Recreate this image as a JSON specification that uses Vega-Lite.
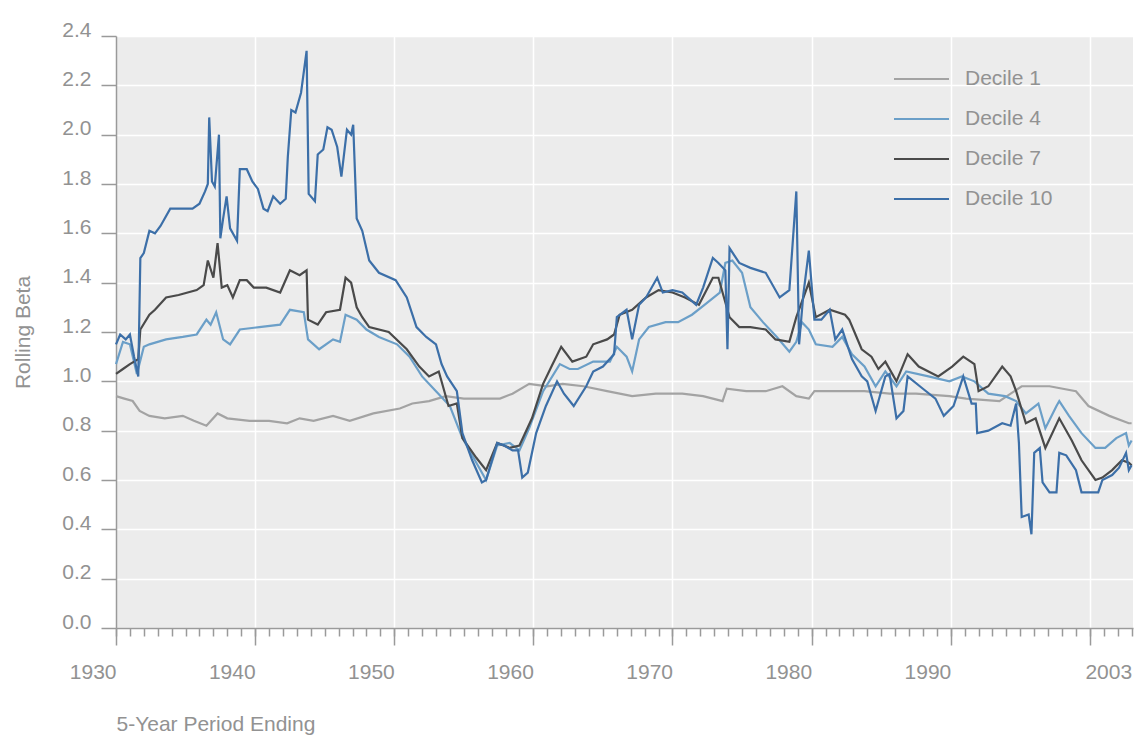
{
  "$schema": "https://vega.github.io/schema/vega-lite/v6.json",
  "autosize": {"type": "none"},
  "padding": {"left": 116, "top": 36, "right": 6, "bottom": 107},
  "width": 1017,
  "height": 592,
  "background": "#ffffff",
  "config": {
    "font": "Liberation Sans",
    "view": {"fill": "#ececec", "stroke": null},
    "axis": {"labelFont": "Liberation Sans", "titleFont": "Liberation Sans", "labelColor": "#929292", "titleColor": "#929292", "labelFontSize": 21, "titleFontSize": 21, "titleFontWeight": "normal", "domainColor": "#9a9a9a", "tickColor": "#9a9a9a", "domainWidth": 1.5, "tickWidth": 1.5}
  },
  "data": {"values": [
    {"series":"Decile 1","year":1930.0,"beta":0.94},{"series":"Decile 1","year":1930.6,"beta":0.93},{"series":"Decile 1","year":1931.2,"beta":0.92},{"series":"Decile 1","year":1931.7,"beta":0.88},{"series":"Decile 1","year":1932.4,"beta":0.86},{"series":"Decile 1","year":1933.5,"beta":0.85},{"series":"Decile 1","year":1934.8,"beta":0.86},{"series":"Decile 1","year":1935.6,"beta":0.84},{"series":"Decile 1","year":1936.5,"beta":0.82},{"series":"Decile 1","year":1937.3,"beta":0.87},{"series":"Decile 1","year":1938.0,"beta":0.85},{"series":"Decile 1","year":1939.6,"beta":0.84},{"series":"Decile 1","year":1941.0,"beta":0.84},{"series":"Decile 1","year":1942.3,"beta":0.83},{"series":"Decile 1","year":1943.2,"beta":0.85},{"series":"Decile 1","year":1944.2,"beta":0.84},{"series":"Decile 1","year":1945.6,"beta":0.86},{"series":"Decile 1","year":1946.8,"beta":0.84},{"series":"Decile 1","year":1948.5,"beta":0.87},{"series":"Decile 1","year":1950.4,"beta":0.89},{"series":"Decile 1","year":1951.3,"beta":0.91},{"series":"Decile 1","year":1952.5,"beta":0.92},{"series":"Decile 1","year":1953.7,"beta":0.94},{"series":"Decile 1","year":1955.0,"beta":0.93},{"series":"Decile 1","year":1956.1,"beta":0.93},{"series":"Decile 1","year":1957.6,"beta":0.93},{"series":"Decile 1","year":1958.5,"beta":0.95},{"series":"Decile 1","year":1959.7,"beta":0.99},{"series":"Decile 1","year":1961.0,"beta":0.98},{"series":"Decile 1","year":1962.1,"beta":0.99},{"series":"Decile 1","year":1963.6,"beta":0.98},{"series":"Decile 1","year":1965.3,"beta":0.96},{"series":"Decile 1","year":1967.1,"beta":0.94},{"series":"Decile 1","year":1968.8,"beta":0.95},{"series":"Decile 1","year":1970.7,"beta":0.95},{"series":"Decile 1","year":1972.2,"beta":0.94},{"series":"Decile 1","year":1973.6,"beta":0.92},{"series":"Decile 1","year":1973.9,"beta":0.97},{"series":"Decile 1","year":1975.3,"beta":0.96},{"series":"Decile 1","year":1976.7,"beta":0.96},{"series":"Decile 1","year":1977.9,"beta":0.98},{"series":"Decile 1","year":1978.9,"beta":0.94},{"series":"Decile 1","year":1979.8,"beta":0.93},{"series":"Decile 1","year":1980.2,"beta":0.96},{"series":"Decile 1","year":1982.0,"beta":0.96},{"series":"Decile 1","year":1983.8,"beta":0.96},{"series":"Decile 1","year":1985.6,"beta":0.95},{"series":"Decile 1","year":1987.5,"beta":0.95},{"series":"Decile 1","year":1989.9,"beta":0.94},{"series":"Decile 1","year":1991.1,"beta":0.93},{"series":"Decile 1","year":1993.5,"beta":0.92},{"series":"Decile 1","year":1995.1,"beta":0.98},{"series":"Decile 1","year":1997.1,"beta":0.98},{"series":"Decile 1","year":1999.0,"beta":0.96},{"series":"Decile 1","year":1999.9,"beta":0.90},{"series":"Decile 1","year":2001.4,"beta":0.86},{"series":"Decile 1","year":2002.8,"beta":0.83},{"series":"Decile 1","year":2003.0,"beta":0.83},

    {"series":"Decile 4","year":1930.0,"beta":1.07},{"series":"Decile 4","year":1930.5,"beta":1.16},{"series":"Decile 4","year":1931.0,"beta":1.15},{"series":"Decile 4","year":1931.5,"beta":1.03},{"series":"Decile 4","year":1932.0,"beta":1.14},{"series":"Decile 4","year":1932.4,"beta":1.15},{"series":"Decile 4","year":1933.6,"beta":1.17},{"series":"Decile 4","year":1934.8,"beta":1.18},{"series":"Decile 4","year":1935.8,"beta":1.19},{"series":"Decile 4","year":1936.5,"beta":1.25},{"series":"Decile 4","year":1936.8,"beta":1.23},{"series":"Decile 4","year":1937.2,"beta":1.28},{"series":"Decile 4","year":1937.7,"beta":1.17},{"series":"Decile 4","year":1938.2,"beta":1.15},{"series":"Decile 4","year":1938.9,"beta":1.21},{"series":"Decile 4","year":1940.3,"beta":1.22},{"series":"Decile 4","year":1941.8,"beta":1.23},{"series":"Decile 4","year":1942.5,"beta":1.29},{"series":"Decile 4","year":1943.5,"beta":1.28},{"series":"Decile 4","year":1943.8,"beta":1.17},{"series":"Decile 4","year":1944.6,"beta":1.13},{"series":"Decile 4","year":1945.6,"beta":1.17},{"series":"Decile 4","year":1946.1,"beta":1.16},{"series":"Decile 4","year":1946.5,"beta":1.27},{"series":"Decile 4","year":1947.3,"beta":1.25},{"series":"Decile 4","year":1948.0,"beta":1.21},{"series":"Decile 4","year":1948.9,"beta":1.18},{"series":"Decile 4","year":1950.2,"beta":1.15},{"series":"Decile 4","year":1951.1,"beta":1.10},{"series":"Decile 4","year":1952.0,"beta":1.02},{"series":"Decile 4","year":1953.0,"beta":0.96},{"series":"Decile 4","year":1954.0,"beta":0.90},{"series":"Decile 4","year":1954.9,"beta":0.77},{"series":"Decile 4","year":1955.9,"beta":0.67},{"series":"Decile 4","year":1956.6,"beta":0.60},{"series":"Decile 4","year":1957.4,"beta":0.74},{"series":"Decile 4","year":1958.3,"beta":0.75},{"series":"Decile 4","year":1959.0,"beta":0.72},{"series":"Decile 4","year":1959.7,"beta":0.81},{"series":"Decile 4","year":1960.7,"beta":0.96},{"series":"Decile 4","year":1961.9,"beta":1.07},{"series":"Decile 4","year":1962.6,"beta":1.05},{"series":"Decile 4","year":1963.2,"beta":1.05},{"series":"Decile 4","year":1964.3,"beta":1.08},{"series":"Decile 4","year":1965.5,"beta":1.08},{"series":"Decile 4","year":1966.0,"beta":1.14},{"series":"Decile 4","year":1966.7,"beta":1.10},{"series":"Decile 4","year":1967.1,"beta":1.04},{"series":"Decile 4","year":1967.6,"beta":1.17},{"series":"Decile 4","year":1968.3,"beta":1.22},{"series":"Decile 4","year":1969.5,"beta":1.24},{"series":"Decile 4","year":1970.4,"beta":1.24},{"series":"Decile 4","year":1971.4,"beta":1.27},{"series":"Decile 4","year":1972.3,"beta":1.31},{"series":"Decile 4","year":1973.4,"beta":1.36},{"series":"Decile 4","year":1973.8,"beta":1.48},{"series":"Decile 4","year":1974.3,"beta":1.49},{"series":"Decile 4","year":1975.0,"beta":1.44},{"series":"Decile 4","year":1975.6,"beta":1.30},{"series":"Decile 4","year":1976.5,"beta":1.24},{"series":"Decile 4","year":1977.5,"beta":1.18},{"series":"Decile 4","year":1978.4,"beta":1.12},{"series":"Decile 4","year":1978.9,"beta":1.16},{"series":"Decile 4","year":1979.3,"beta":1.24},{"series":"Decile 4","year":1979.8,"beta":1.21},{"series":"Decile 4","year":1980.3,"beta":1.15},{"series":"Decile 4","year":1981.5,"beta":1.14},{"series":"Decile 4","year":1982.2,"beta":1.18},{"series":"Decile 4","year":1982.9,"beta":1.11},{"series":"Decile 4","year":1983.8,"beta":1.06},{"series":"Decile 4","year":1984.6,"beta":0.98},{"series":"Decile 4","year":1985.3,"beta":1.04},{"series":"Decile 4","year":1986.1,"beta":0.98},{"series":"Decile 4","year":1986.8,"beta":1.04},{"series":"Decile 4","year":1988.4,"beta":1.02},{"series":"Decile 4","year":1989.9,"beta":1.00},{"series":"Decile 4","year":1990.8,"beta":1.02},{"series":"Decile 4","year":1991.7,"beta":1.00},{"series":"Decile 4","year":1992.7,"beta":0.95},{"series":"Decile 4","year":1993.9,"beta":0.94},{"series":"Decile 4","year":1994.7,"beta":0.92},{"series":"Decile 4","year":1995.4,"beta":0.87},{"series":"Decile 4","year":1996.3,"beta":0.91},{"series":"Decile 4","year":1996.8,"beta":0.81},{"series":"Decile 4","year":1997.6,"beta":0.90},{"series":"Decile 4","year":1997.8,"beta":0.92},{"series":"Decile 4","year":1998.5,"beta":0.86},{"series":"Decile 4","year":1999.4,"beta":0.79},{"series":"Decile 4","year":2000.4,"beta":0.73},{"series":"Decile 4","year":2001.1,"beta":0.73},{"series":"Decile 4","year":2001.9,"beta":0.77},{"series":"Decile 4","year":2002.6,"beta":0.79},{"series":"Decile 4","year":2002.8,"beta":0.74},{"series":"Decile 4","year":2003.0,"beta":0.76},

    {"series":"Decile 7","year":1930.0,"beta":1.03},{"series":"Decile 7","year":1930.5,"beta":1.05},{"series":"Decile 7","year":1931.0,"beta":1.07},{"series":"Decile 7","year":1931.6,"beta":1.09},{"series":"Decile 7","year":1931.75,"beta":1.21},{"series":"Decile 7","year":1932.4,"beta":1.27},{"series":"Decile 7","year":1932.8,"beta":1.29},{"series":"Decile 7","year":1933.6,"beta":1.34},{"series":"Decile 7","year":1934.5,"beta":1.35},{"series":"Decile 7","year":1935.8,"beta":1.37},{"series":"Decile 7","year":1936.3,"beta":1.39},{"series":"Decile 7","year":1936.6,"beta":1.49},{"series":"Decile 7","year":1937.0,"beta":1.42},{"series":"Decile 7","year":1937.3,"beta":1.56},{"series":"Decile 7","year":1937.6,"beta":1.38},{"series":"Decile 7","year":1938.0,"beta":1.39},{"series":"Decile 7","year":1938.4,"beta":1.34},{"series":"Decile 7","year":1938.9,"beta":1.41},{"series":"Decile 7","year":1939.4,"beta":1.41},{"series":"Decile 7","year":1939.9,"beta":1.38},{"series":"Decile 7","year":1940.8,"beta":1.38},{"series":"Decile 7","year":1941.8,"beta":1.36},{"series":"Decile 7","year":1942.5,"beta":1.45},{"series":"Decile 7","year":1943.2,"beta":1.43},{"series":"Decile 7","year":1943.7,"beta":1.45},{"series":"Decile 7","year":1943.8,"beta":1.25},{"series":"Decile 7","year":1944.5,"beta":1.23},{"series":"Decile 7","year":1945.1,"beta":1.28},{"series":"Decile 7","year":1946.1,"beta":1.29},{"series":"Decile 7","year":1946.5,"beta":1.42},{"series":"Decile 7","year":1946.9,"beta":1.40},{"series":"Decile 7","year":1947.3,"beta":1.30},{"series":"Decile 7","year":1947.7,"beta":1.26},{"series":"Decile 7","year":1948.2,"beta":1.22},{"series":"Decile 7","year":1949.6,"beta":1.20},{"series":"Decile 7","year":1950.9,"beta":1.13},{"series":"Decile 7","year":1951.8,"beta":1.06},{"series":"Decile 7","year":1952.5,"beta":1.02},{"series":"Decile 7","year":1953.2,"beta":1.04},{"series":"Decile 7","year":1953.9,"beta":0.90},{"series":"Decile 7","year":1954.5,"beta":0.91},{"series":"Decile 7","year":1954.9,"beta":0.77},{"series":"Decile 7","year":1955.9,"beta":0.69},{"series":"Decile 7","year":1956.6,"beta":0.64},{"series":"Decile 7","year":1957.4,"beta":0.75},{"series":"Decile 7","year":1958.3,"beta":0.73},{"series":"Decile 7","year":1959.0,"beta":0.74},{"series":"Decile 7","year":1959.9,"beta":0.85},{"series":"Decile 7","year":1960.7,"beta":0.99},{"series":"Decile 7","year":1961.3,"beta":1.06},{"series":"Decile 7","year":1962.0,"beta":1.14},{"series":"Decile 7","year":1962.8,"beta":1.08},{"series":"Decile 7","year":1963.8,"beta":1.10},{"series":"Decile 7","year":1964.3,"beta":1.15},{"series":"Decile 7","year":1965.3,"beta":1.17},{"series":"Decile 7","year":1965.8,"beta":1.19},{"series":"Decile 7","year":1966.2,"beta":1.27},{"series":"Decile 7","year":1967.1,"beta":1.29},{"series":"Decile 7","year":1968.1,"beta":1.34},{"series":"Decile 7","year":1969.0,"beta":1.37},{"series":"Decile 7","year":1970.0,"beta":1.36},{"series":"Decile 7","year":1970.9,"beta":1.34},{"series":"Decile 7","year":1971.9,"beta":1.31},{"series":"Decile 7","year":1972.9,"beta":1.42},{"series":"Decile 7","year":1973.3,"beta":1.42},{"series":"Decile 7","year":1974.1,"beta":1.26},{"series":"Decile 7","year":1974.8,"beta":1.22},{"series":"Decile 7","year":1975.6,"beta":1.22},{"series":"Decile 7","year":1976.7,"beta":1.21},{"series":"Decile 7","year":1977.4,"beta":1.17},{"series":"Decile 7","year":1978.4,"beta":1.16},{"series":"Decile 7","year":1978.9,"beta":1.26},{"series":"Decile 7","year":1979.8,"beta":1.40},{"series":"Decile 7","year":1980.3,"beta":1.26},{"series":"Decile 7","year":1981.3,"beta":1.29},{"series":"Decile 7","year":1982.4,"beta":1.27},{"series":"Decile 7","year":1982.7,"beta":1.25},{"series":"Decile 7","year":1983.6,"beta":1.13},{"series":"Decile 7","year":1984.3,"beta":1.10},{"series":"Decile 7","year":1984.8,"beta":1.05},{"series":"Decile 7","year":1985.3,"beta":1.08},{"series":"Decile 7","year":1986.1,"beta":1.00},{"series":"Decile 7","year":1986.9,"beta":1.11},{"series":"Decile 7","year":1987.7,"beta":1.06},{"series":"Decile 7","year":1989.1,"beta":1.02},{"series":"Decile 7","year":1990.1,"beta":1.06},{"series":"Decile 7","year":1990.9,"beta":1.10},{"series":"Decile 7","year":1991.7,"beta":1.07},{"series":"Decile 7","year":1992.0,"beta":0.96},{"series":"Decile 7","year":1992.7,"beta":0.98},{"series":"Decile 7","year":1993.7,"beta":1.06},{"series":"Decile 7","year":1994.3,"beta":1.02},{"series":"Decile 7","year":1994.7,"beta":0.96},{"series":"Decile 7","year":1995.4,"beta":0.83},{"series":"Decile 7","year":1996.1,"beta":0.85},{"series":"Decile 7","year":1996.8,"beta":0.73},{"series":"Decile 7","year":1997.8,"beta":0.85},{"series":"Decile 7","year":1998.7,"beta":0.76},{"series":"Decile 7","year":1999.4,"beta":0.68},{"series":"Decile 7","year":2000.4,"beta":0.60},{"series":"Decile 7","year":2000.9,"beta":0.61},{"series":"Decile 7","year":2001.6,"beta":0.64},{"series":"Decile 7","year":2002.3,"beta":0.68},{"series":"Decile 7","year":2002.8,"beta":0.67},{"series":"Decile 7","year":2003.0,"beta":0.66},

    {"series":"Decile 10","year":1930.0,"beta":1.15},{"series":"Decile 10","year":1930.3,"beta":1.19},{"series":"Decile 10","year":1930.7,"beta":1.17},{"series":"Decile 10","year":1931.0,"beta":1.19},{"series":"Decile 10","year":1931.3,"beta":1.10},{"series":"Decile 10","year":1931.6,"beta":1.02},{"series":"Decile 10","year":1931.75,"beta":1.50},{"series":"Decile 10","year":1932.0,"beta":1.52},{"series":"Decile 10","year":1932.4,"beta":1.61},{"series":"Decile 10","year":1932.8,"beta":1.60},{"series":"Decile 10","year":1933.2,"beta":1.63},{"series":"Decile 10","year":1933.9,"beta":1.70},{"series":"Decile 10","year":1934.5,"beta":1.70},{"series":"Decile 10","year":1935.5,"beta":1.70},{"series":"Decile 10","year":1936.0,"beta":1.72},{"series":"Decile 10","year":1936.4,"beta":1.77},{"series":"Decile 10","year":1936.6,"beta":1.80},{"series":"Decile 10","year":1936.7,"beta":2.07},{"series":"Decile 10","year":1936.9,"beta":1.81},{"series":"Decile 10","year":1937.1,"beta":1.79},{"series":"Decile 10","year":1937.4,"beta":2.00},{"series":"Decile 10","year":1937.5,"beta":1.58},{"series":"Decile 10","year":1937.7,"beta":1.66},{"series":"Decile 10","year":1937.95,"beta":1.75},{"series":"Decile 10","year":1938.2,"beta":1.62},{"series":"Decile 10","year":1938.7,"beta":1.57},{"series":"Decile 10","year":1938.9,"beta":1.86},{"series":"Decile 10","year":1939.4,"beta":1.86},{"series":"Decile 10","year":1939.8,"beta":1.81},{"series":"Decile 10","year":1940.2,"beta":1.78},{"series":"Decile 10","year":1940.6,"beta":1.70},{"series":"Decile 10","year":1940.9,"beta":1.69},{"series":"Decile 10","year":1941.3,"beta":1.75},{"series":"Decile 10","year":1941.8,"beta":1.72},{"series":"Decile 10","year":1942.2,"beta":1.74},{"series":"Decile 10","year":1942.35,"beta":1.91},{"series":"Decile 10","year":1942.6,"beta":2.10},{"series":"Decile 10","year":1942.9,"beta":2.09},{"series":"Decile 10","year":1943.3,"beta":2.17},{"series":"Decile 10","year":1943.7,"beta":2.34},{"series":"Decile 10","year":1943.85,"beta":1.76},{"series":"Decile 10","year":1944.3,"beta":1.73},{"series":"Decile 10","year":1944.5,"beta":1.92},{"series":"Decile 10","year":1944.9,"beta":1.94},{"series":"Decile 10","year":1945.2,"beta":2.03},{"series":"Decile 10","year":1945.5,"beta":2.02},{"series":"Decile 10","year":1945.9,"beta":1.95},{"series":"Decile 10","year":1946.2,"beta":1.83},{"series":"Decile 10","year":1946.6,"beta":2.02},{"series":"Decile 10","year":1946.9,"beta":2.00},{"series":"Decile 10","year":1947.05,"beta":2.04},{"series":"Decile 10","year":1947.3,"beta":1.66},{"series":"Decile 10","year":1947.7,"beta":1.61},{"series":"Decile 10","year":1948.2,"beta":1.49},{"series":"Decile 10","year":1948.9,"beta":1.44},{"series":"Decile 10","year":1950.1,"beta":1.41},{"series":"Decile 10","year":1950.9,"beta":1.34},{"series":"Decile 10","year":1951.6,"beta":1.22},{"series":"Decile 10","year":1952.3,"beta":1.18},{"series":"Decile 10","year":1953.0,"beta":1.15},{"series":"Decile 10","year":1953.4,"beta":1.07},{"series":"Decile 10","year":1953.8,"beta":1.02},{"series":"Decile 10","year":1954.5,"beta":0.96},{"series":"Decile 10","year":1954.9,"beta":0.79},{"series":"Decile 10","year":1955.6,"beta":0.68},{"series":"Decile 10","year":1956.3,"beta":0.59},{"series":"Decile 10","year":1956.6,"beta":0.60},{"series":"Decile 10","year":1957.4,"beta":0.75},{"series":"Decile 10","year":1957.9,"beta":0.74},{"series":"Decile 10","year":1958.5,"beta":0.72},{"series":"Decile 10","year":1958.9,"beta":0.72},{"series":"Decile 10","year":1959.2,"beta":0.61},{"series":"Decile 10","year":1959.6,"beta":0.63},{"series":"Decile 10","year":1960.2,"beta":0.79},{"series":"Decile 10","year":1960.9,"beta":0.90},{"series":"Decile 10","year":1961.7,"beta":1.00},{"series":"Decile 10","year":1962.2,"beta":0.95},{"series":"Decile 10","year":1962.9,"beta":0.90},{"series":"Decile 10","year":1963.8,"beta":0.98},{"series":"Decile 10","year":1964.3,"beta":1.04},{"series":"Decile 10","year":1965.0,"beta":1.06},{"series":"Decile 10","year":1965.8,"beta":1.11},{"series":"Decile 10","year":1966.0,"beta":1.26},{"series":"Decile 10","year":1966.7,"beta":1.29},{"series":"Decile 10","year":1967.1,"beta":1.17},{"series":"Decile 10","year":1967.6,"beta":1.31},{"series":"Decile 10","year":1968.1,"beta":1.34},{"series":"Decile 10","year":1968.9,"beta":1.42},{"series":"Decile 10","year":1969.3,"beta":1.36},{"series":"Decile 10","year":1970.0,"beta":1.37},{"series":"Decile 10","year":1970.7,"beta":1.36},{"series":"Decile 10","year":1971.7,"beta":1.31},{"series":"Decile 10","year":1972.2,"beta":1.38},{"series":"Decile 10","year":1972.9,"beta":1.50},{"series":"Decile 10","year":1973.3,"beta":1.48},{"series":"Decile 10","year":1973.8,"beta":1.45},{"series":"Decile 10","year":1973.95,"beta":1.13},{"series":"Decile 10","year":1974.1,"beta":1.54},{"series":"Decile 10","year":1974.8,"beta":1.48},{"series":"Decile 10","year":1975.6,"beta":1.46},{"series":"Decile 10","year":1976.7,"beta":1.44},{"series":"Decile 10","year":1977.7,"beta":1.34},{"series":"Decile 10","year":1978.4,"beta":1.37},{"series":"Decile 10","year":1978.9,"beta":1.77},{"series":"Decile 10","year":1979.1,"beta":1.15},{"series":"Decile 10","year":1979.4,"beta":1.35},{"series":"Decile 10","year":1979.8,"beta":1.53},{"series":"Decile 10","year":1980.2,"beta":1.25},{"series":"Decile 10","year":1980.7,"beta":1.25},{"series":"Decile 10","year":1981.3,"beta":1.29},{"series":"Decile 10","year":1981.7,"beta":1.17},{"series":"Decile 10","year":1982.2,"beta":1.21},{"series":"Decile 10","year":1982.9,"beta":1.09},{"series":"Decile 10","year":1983.6,"beta":1.02},{"series":"Decile 10","year":1984.0,"beta":1.00},{"series":"Decile 10","year":1984.6,"beta":0.88},{"series":"Decile 10","year":1985.3,"beta":1.02},{"series":"Decile 10","year":1985.6,"beta":1.03},{"series":"Decile 10","year":1986.1,"beta":0.85},{"series":"Decile 10","year":1986.6,"beta":0.88},{"series":"Decile 10","year":1986.9,"beta":1.02},{"series":"Decile 10","year":1988.0,"beta":0.97},{"series":"Decile 10","year":1988.9,"beta":0.93},{"series":"Decile 10","year":1989.5,"beta":0.86},{"series":"Decile 10","year":1990.2,"beta":0.90},{"series":"Decile 10","year":1990.9,"beta":1.02},{"series":"Decile 10","year":1991.5,"beta":0.91},{"series":"Decile 10","year":1991.8,"beta":0.91},{"series":"Decile 10","year":1991.9,"beta":0.79},{"series":"Decile 10","year":1992.7,"beta":0.80},{"series":"Decile 10","year":1993.7,"beta":0.83},{"series":"Decile 10","year":1994.3,"beta":0.82},{"series":"Decile 10","year":1994.7,"beta":0.91},{"series":"Decile 10","year":1994.9,"beta":0.75},{"series":"Decile 10","year":1995.1,"beta":0.45},{"series":"Decile 10","year":1995.6,"beta":0.46},{"series":"Decile 10","year":1995.8,"beta":0.38},{"series":"Decile 10","year":1996.0,"beta":0.71},{"series":"Decile 10","year":1996.4,"beta":0.73},{"series":"Decile 10","year":1996.6,"beta":0.59},{"series":"Decile 10","year":1997.1,"beta":0.55},{"series":"Decile 10","year":1997.6,"beta":0.55},{"series":"Decile 10","year":1997.8,"beta":0.71},{"series":"Decile 10","year":1998.3,"beta":0.70},{"series":"Decile 10","year":1999.0,"beta":0.64},{"series":"Decile 10","year":1999.4,"beta":0.55},{"series":"Decile 10","year":2000.2,"beta":0.55},{"series":"Decile 10","year":2000.6,"beta":0.55},{"series":"Decile 10","year":2000.9,"beta":0.60},{"series":"Decile 10","year":2001.6,"beta":0.62},{"series":"Decile 10","year":2002.1,"beta":0.65},{"series":"Decile 10","year":2002.6,"beta":0.71},{"series":"Decile 10","year":2002.8,"beta":0.64},{"series":"Decile 10","year":2003.0,"beta":0.66}
  ]},
  "encoding": {
    "y": {"field": "beta", "type": "quantitative", "scale": {"domain": [0, 2.4], "nice": false, "zero": false},
      "axis": {"title": "Rolling Beta", "titlePadding": 28, "values": [0, 0.2, 0.4, 0.6, 0.8, 1.0, 1.2, 1.4, 1.6, 1.8, 2.0, 2.2, 2.4], "format": ".1f", "tickSize": 15, "labelPadding": 10, "labelBaseline": "alphabetic", "grid": true, "gridColor": "#ffffff", "gridWidth": 1.5, "domain": true}}
  },
  "layer": [
    {
      "mark": {"type": "line", "strokeWidth": 2.2, "interpolate": "linear"},
      "encoding": {
        "x": {"field": "year", "type": "quantitative", "scale": {"domain": [1930, 2003.1], "nice": false, "zero": false},
          "axis": {"orient": "bottom", "title": "5-Year Period Ending", "titleAnchor": "start", "titleAlign": "left", "titlePadding": 31,
            "values": [1930, 1940, 1950, 1960, 1970, 1980, 1990, 2000, 2003], "format": "d",
            "labelExpr": "datum.value == 2000 ? '' : datum.label", "labelAlign": "right", "labelBaseline": "top", "labelPadding": 16, "labelOverlap": false, "labelFlush": false,
            "tickSize": 17, "tickOpacity": {"condition": {"test": "datum.value == 2003", "value": 0}, "value": 1},
            "grid": true, "gridColor": "#ffffff", "gridWidth": 1.5, "gridOpacity": {"condition": {"test": "datum.value == 2003 || datum.value == 1930", "value": 0}, "value": 1}}},
        "color": {"field": "series", "type": "nominal",
          "scale": {"domain": ["Decile 1", "Decile 4", "Decile 7", "Decile 10"], "range": ["#a3a3a3", "#6b9fc8", "#4a4a4a", "#3c6fa8"]},
          "legend": {"title": null, "orient": "none", "legendX": 777, "legendY": 33, "symbolType": "stroke", "symbolSize": 3025, "symbolStrokeWidth": 2, "clipHeight": 20, "rowPadding": 19, "labelOffset": 15, "labelFontSize": 21, "labelColor": "#929292", "labelFont": "Liberation Sans", "padding": 0}},
        "strokeWidth": {"condition": {"test": "datum.series == 'Decile 1'", "value": 1.6}, "value": 2.2}
      }
    },
    {
      "mark": {"type": "line", "opacity": 0},
      "encoding": {
        "x": {"field": "year", "type": "quantitative",
          "axis": {"orient": "bottom", "title": null, "labels": false, "domain": false, "grid": false, "tickSize": 8,
            "values": [1930,1931,1932,1933,1934,1935,1936,1937,1938,1939,1940,1941,1942,1943,1944,1945,1946,1947,1948,1949,1950,1951,1952,1953,1954,1955,1956,1957,1958,1959,1960,1961,1962,1963,1964,1965,1966,1967,1968,1969,1970,1971,1972,1973,1974,1975,1976,1977,1978,1979,1980,1981,1982,1983,1984,1985,1986,1987,1988,1989,1990,1991,1992,1993,1994,1995,1996,1997,1998,1999,2000,2001,2002,2003]}},
        "detail": {"field": "series", "type": "nominal"}
      }
    }
  ],
  "resolve": {"axis": {"x": "independent"}}
}
